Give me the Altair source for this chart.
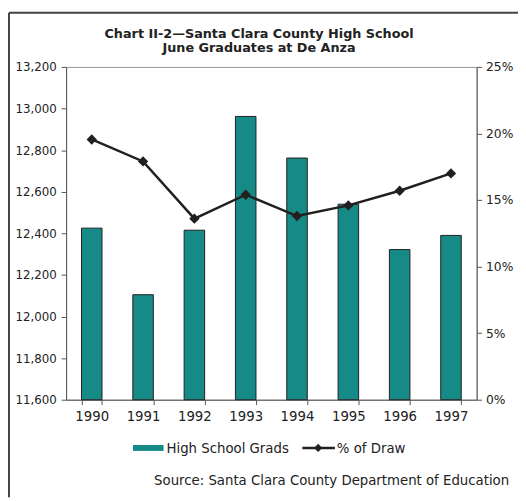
import altair as alt
import pandas as pd

years = ["1990", "1991", "1992", "1993", "1994", "1995", "1996", "1997"]
grads = [12425, 12105, 12415, 12962, 12762, 12540, 12322, 12390]
pct_draw = [0.1955, 0.179, 0.136, 0.154, 0.138, 0.146, 0.157, 0.170]
left_ticks = [11600, 11800, 12000, 12200, 12400, 12600, 12800, 13000, 13200]
right_ticks = [0, 0.05, 0.10, 0.15, 0.20, 0.25]
title_lines = ["Chart II-2\u2014Santa Clara County High School", "June Graduates at De Anza"]

df = pd.DataFrame({"year": years, "grads": grads, "pct": pct_draw})

FONT = "DejaVu Sans"
TEAL = "#168a87"
DARK = "#231f20"
AXISC = "#555555"
TXT = "#222222"

x_enc = alt.X(
    "year:N",
    scale=alt.Scale(paddingInner=0.6, paddingOuter=0.3),
    axis=alt.Axis(
        title=None, labelAngle=0, tickBand="extent", tickSize=5,
        labelFont=FONT, labelFontSize=13.5, labelColor=TXT, labelPadding=5,
        domainColor=AXISC, tickColor=AXISC,
    ),
)

bars = alt.Chart(df).mark_bar(color=TEAL, stroke=DARK, strokeWidth=1).encode(
    x=x_enc,
    y=alt.Y(
        "grads:Q",
        scale=alt.Scale(domain=[11600, 13200], zero=False, nice=False),
        axis=alt.Axis(
            title=None, values=left_ticks, format=",.0f", grid=False, orient="left",
            labelFont=FONT, labelFontSize=12, labelColor=TXT, tickSize=5,
            labelPadding=5, domainColor=AXISC, tickColor=AXISC,
        ),
    ),
    y2=alt.datum(11600),
)

line = alt.Chart(df).mark_line(
    color=DARK, strokeWidth=2.5,
    point=alt.OverlayMarkDef(shape="diamond", size=110, filled=True, color=DARK),
).encode(
    x=alt.X("year:N"),
    y=alt.Y(
        "pct:Q",
        scale=alt.Scale(domain=[0, 0.25], nice=False),
        axis=alt.Axis(
            title=None, values=right_ticks, format=".0%", grid=False, orient="right",
            labelFont=FONT, labelFontSize=12.5, labelColor=TXT, tickSize=5,
            labelPadding=4, domainColor=AXISC, tickColor=AXISC,
        ),
    ),
)

one = pd.DataFrame({"k": [0]})

title1 = alt.Chart(one).mark_text(
    align="center", baseline="alphabetic", font=FONT, fontSize=13,
    fontWeight="bold", color=TXT,
).encode(x=alt.value(196), y=alt.value(-29), text=alt.value(title_lines[0]))
title2 = alt.Chart(one).mark_text(
    align="center", baseline="alphabetic", font=FONT, fontSize=13,
    fontWeight="bold", color=TXT,
).encode(x=alt.value(196), y=alt.value(-15), text=alt.value(title_lines[1]))

legend_swatch = alt.Chart(one).mark_rect(color=TEAL).encode(
    x=alt.value(68), x2=alt.value(99), y=alt.value(384), y2=alt.value(390)
)
legend_text1 = alt.Chart(one).mark_text(
    align="left", baseline="alphabetic", font=FONT, fontSize=13.5, color=TXT
).encode(x=alt.value(102), y=alt.value(392), text=alt.value("High School Grads"))
legend_rule = alt.Chart(one).mark_rule(color=DARK, strokeWidth=2.5).encode(
    x=alt.value(240), x2=alt.value(273), y=alt.value(387)
)
legend_pt = alt.Chart(one).mark_point(
    shape="diamond", size=70, filled=True, color=DARK, opacity=1
).encode(x=alt.value(256), y=alt.value(387))
legend_text2 = alt.Chart(one).mark_text(
    align="left", baseline="alphabetic", font=FONT, fontSize=13.5, color=TXT
).encode(x=alt.value(275), y=alt.value(392), text=alt.value("% of Draw"))
source = alt.Chart(one).mark_text(
    align="right", baseline="alphabetic", font=FONT, fontSize=13.5, color=TXT
).encode(
    x=alt.value(450), y=alt.value(425),
    text=alt.value("Source: Santa Clara County Department of Education"),
)

# outer frame lines (top and left edges of the figure box)
frame_top = alt.Chart(one).mark_rule(color="#444444", strokeWidth=2).encode(
    x=alt.value(-58), x2=alt.value(459), y=alt.value(-55)
)
frame_left = alt.Chart(one).mark_rule(color="#444444", strokeWidth=2).encode(
    x=alt.value(-58), y=alt.value(-55), y2=alt.value(437)
)

chart = (
    alt.layer(bars, line, title1, title2, legend_swatch, legend_text1, legend_rule,
              legend_pt, legend_text2, source, frame_top, frame_left)
    .resolve_scale(y="independent")
    .properties(
        width=417, height=338,
        autosize=alt.AutoSizeParams(type="none"),
        padding={"left": 59, "top": 56, "right": 42, "bottom": 99},
    )
    .configure_view(stroke="#999999", strokeWidth=1)
)

chart.save("out.html", embed_options={"renderer": "svg", "actions": False})
